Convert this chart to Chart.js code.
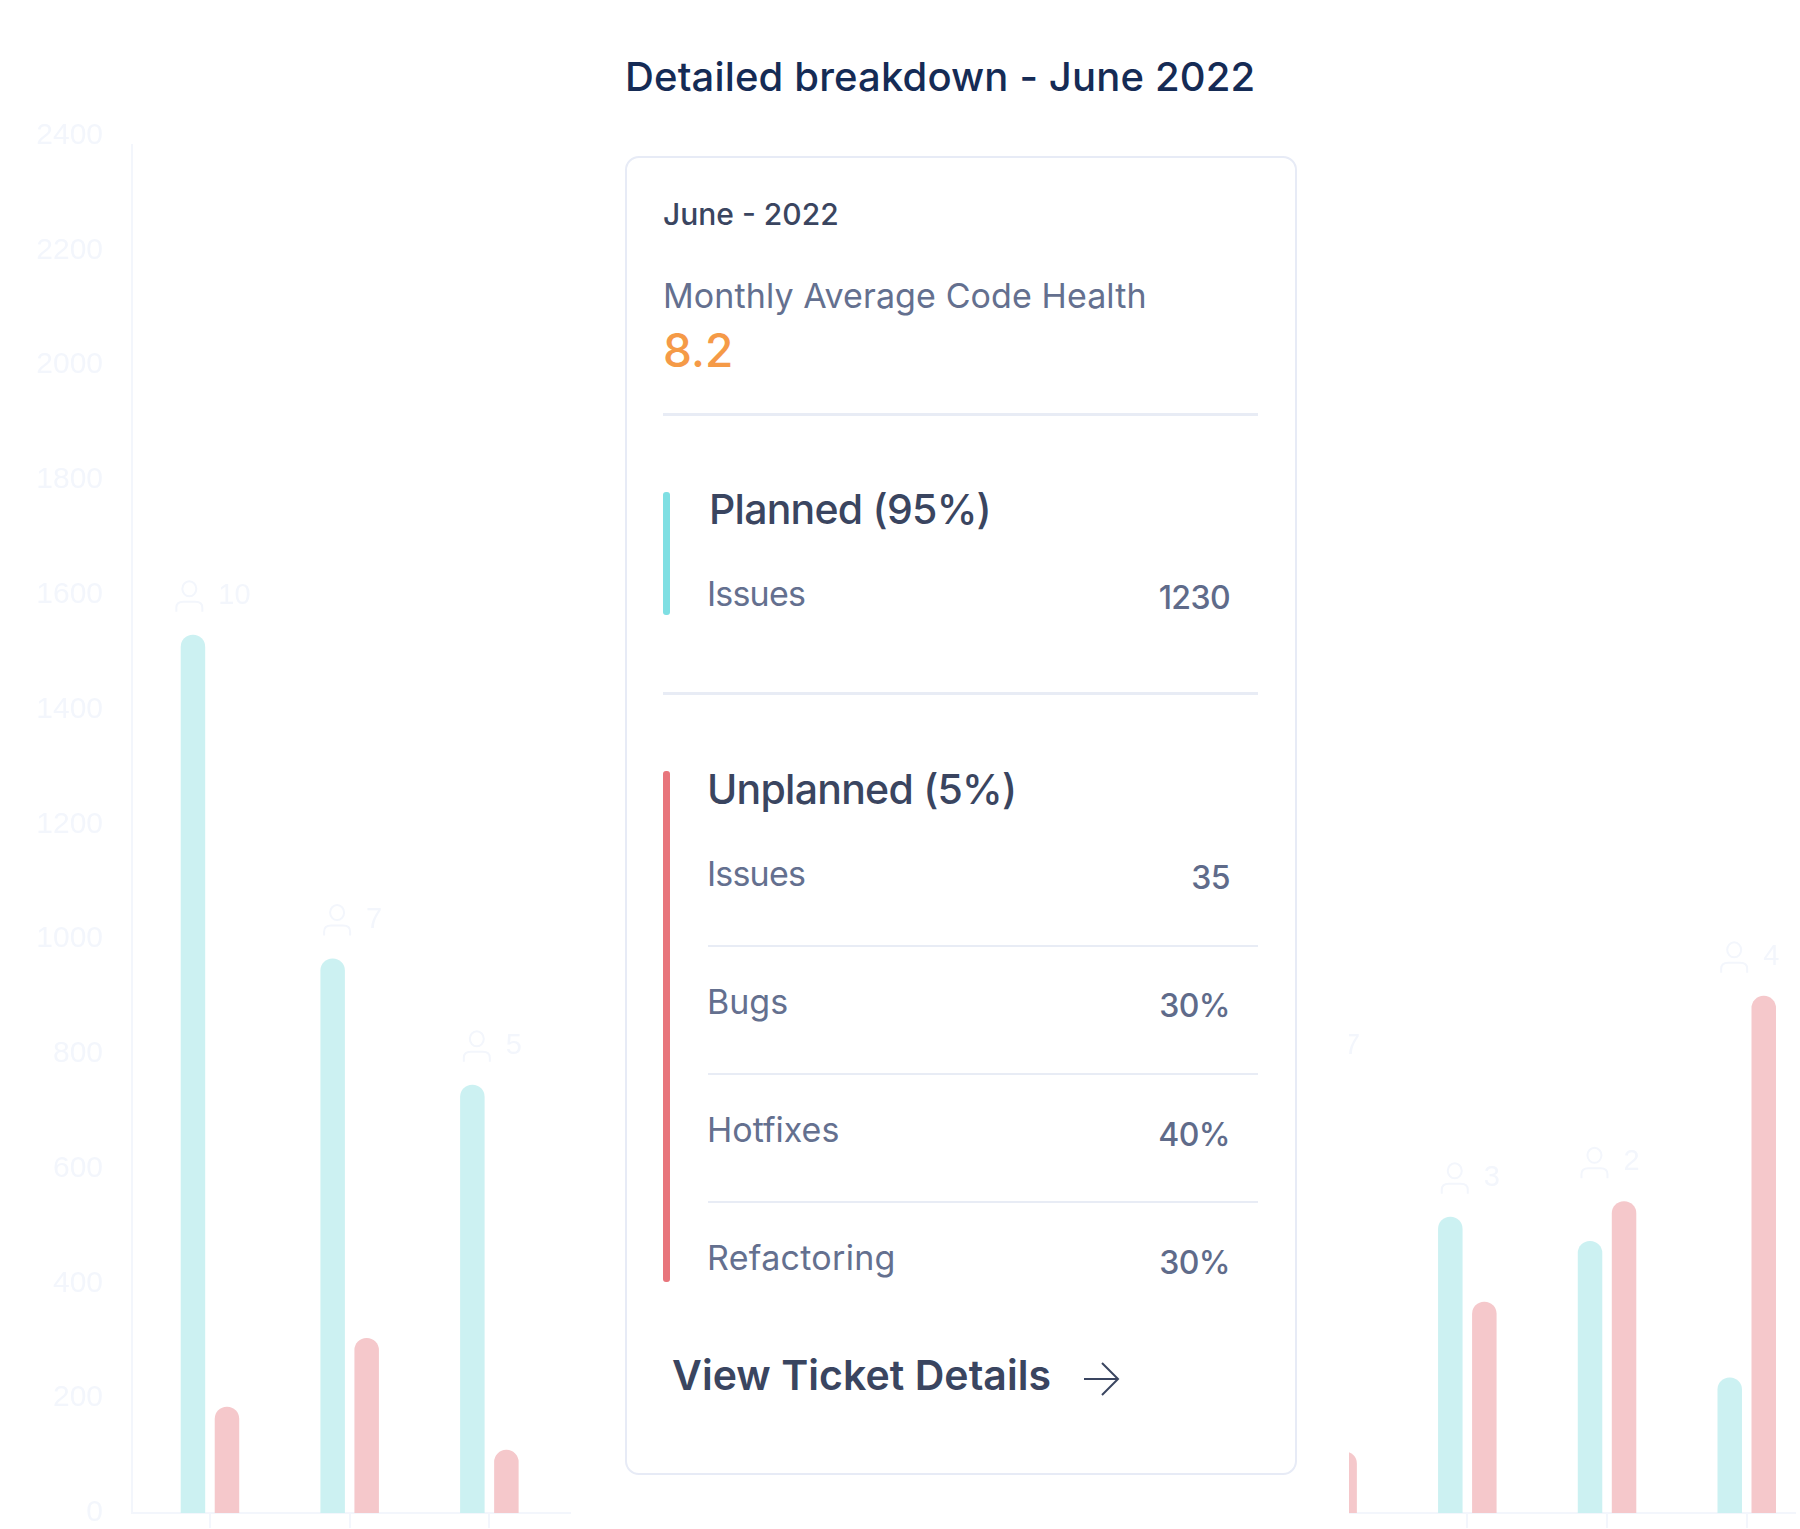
<!DOCTYPE html>
<html>
<head>
<meta charset="utf-8">
<script src="https://cdn.jsdelivr.net/npm/chart.js@4"></script>
<style>
  html, body { margin: 0; padding: 0; background: #fff; width: 1800px; height: 1529px; overflow: hidden; }
  body { position: relative; font-family: Inter, sans-serif; }
  #chartWrap { position: absolute; left: 0; top: 0; width: 1796px; height: 1529px; overflow: hidden; }
  #mask { position: absolute; left: 571px; top: 0; width: 777.5px; height: 1529px; background: #fff; }
  #axisTop { position: absolute; left: 126px; top: 128px; width: 12px; height: 16px; background: #fff; }
  .t { position: absolute; line-height: 0; white-space: nowrap; }
  .title { left: 625px; top: 77px; font-size: 40px; font-weight: 500; letter-spacing: 0.15px; color: #152b55; }
  #card { position: absolute; left: 625px; top: 156px; width: 668px; height: 1315px; border: 2px solid #e7ebf6; border-radius: 14px; }
  .month { left: 663px; top: 214px; font-size: 30px; font-weight: 500; color: #3a4560; }
  .lbl { left: 707px; font-size: 34px; color: #64708f; }
  .val { right: 570px; font-size: 32px; font-weight: 500; letter-spacing: -0.6px; color: #5f6b8a; }
  .head { font-size: 41px; font-weight: 500; letter-spacing: -0.75px; color: #3a4560; }
  .rule { position: absolute; background: #e8ecf5; }
  .stripe { position: absolute; left: 663px; width: 7px; border-radius: 3px; }
</style>
</head>
<body>
<!-- canvas runs past the window on purpose: the months keep going off the picture -->
<div id="chartWrap"><canvas id="myChart" width="1900" height="1552"></canvas></div>
<div id="axisTop"></div>
<div id="mask"></div>
<div class="t title">Detailed breakdown - June 2022</div>
<div id="card"></div>
<div class="t month">June - 2022</div>
<div class="t lbl" style="left:663px;top:296px;letter-spacing:0.1px">Monthly Average Code Health</div>
<div class="t" style="left:663px;top:350px;font-size:46px;font-weight:500;color:#f59a47">8.2</div>
<div class="rule" style="left:663px;top:413px;width:595px;height:3px"></div>

<div class="stripe" style="top:492px;height:123px;background:#7fdfe3"></div>
<div class="t head" style="left:709px;top:509px">Planned (95%)</div>
<div class="t lbl" style="top:594px;letter-spacing:-0.8px">Issues</div>
<div class="t val" style="top:598px">1230</div>
<div class="rule" style="left:663px;top:692px;width:595px;height:3px"></div>

<div class="stripe" style="top:771px;height:511px;background:#e8757c"></div>
<div class="t head" style="left:707px;top:789px">Unplanned (5%)</div>
<div class="t lbl" style="top:874px;letter-spacing:-0.8px">Issues</div>
<div class="t val" style="top:878px">35</div>
<div class="rule" style="left:708px;top:945px;width:550px;height:2px"></div>
<div class="t lbl" style="top:1002px">Bugs</div>
<div class="t val" style="top:1006px">30%</div>
<div class="rule" style="left:708px;top:1073px;width:550px;height:2px"></div>
<div class="t lbl" style="top:1130px">Hotfixes</div>
<div class="t val" style="top:1135px">40%</div>
<div class="rule" style="left:708px;top:1201px;width:550px;height:2px"></div>
<div class="t lbl" style="top:1258px;letter-spacing:0.3px">Refactoring</div>
<div class="t val" style="top:1263px">30%</div>

<div class="t head" style="left:672px;top:1375px;font-weight:600;letter-spacing:0.05px">View Ticket Details</div>
<svg style="position:absolute;left:1082px;top:1360px" width="40" height="38" viewBox="0 0 40 38" fill="none" stroke="#3a4560" stroke-width="2">
  <path d="M2 19H36M20 3L36 19L20 35"/>
</svg>

<script>
// month index on the x axis, 3-7 are hidden behind the card
var months = [0, 1, 2, 3, 4, 5, 6, 7, 8, 9, 10, 11];
var planned = [1530, 966, 746, null, null, null, null, null, 746, 516, 474, 236];
var unplanned = [185, 305, 110, null, null, null, null, null, 107, 368, 543, 901];
var people = [10, 7, 5, null, null, null, null, null, 7, 3, 2, 4];
var yTicks = [0, 200, 400, 600, 800, 1000, 1200, 1400, 1600, 1800, 2000, 2200, 2400];

const faint = '#f3f6fc';

function toPoints(values) {
  return months.map(function(m, i) {
    return { x: m, y: values[i] };
  });
}

// little person icon + head count above each pair of bars
var peopleLabels = {
  id: 'peopleLabels',
  afterDatasetsDraw: function(chart) {
    var ctx = chart.ctx;
    var xs = chart.scales.x;
    var ys = chart.scales.y;
    ctx.save();
    ctx.font = '29px "Liberation Sans"';
    ctx.fillStyle = faint;
    ctx.strokeStyle = faint;
    ctx.lineWidth = 2;
    ctx.textBaseline = 'middle';
    months.forEach(function(m, i) {
      if (people[i] == null) return;
      var text = String(people[i]);
      var top = ys.getPixelForValue(Math.max(planned[i], unplanned[i]));
      var tw = ctx.measureText(text).width;
      var left = xs.getPixelForValue(m) + 3 - (28 + 15 + tw) / 2;
      // head
      ctx.beginPath();
      ctx.ellipse(left + 14, top - 46, 7, 7.5, 0, 0, Math.PI * 2);
      ctx.stroke();
      // shoulders
      ctx.beginPath();
      ctx.moveTo(left + 1, top - 23);
      ctx.lineTo(left + 1, top - 27);
      ctx.quadraticCurveTo(left + 1, top - 33, left + 8, top - 33);
      ctx.lineTo(left + 20, top - 33);
      ctx.quadraticCurveTo(left + 27, top - 33, left + 27, top - 27);
      ctx.lineTo(left + 27, top - 23);
      ctx.stroke();
      ctx.fillText(text, left + 43, top - 39);
    });
    ctx.restore();
  }
};

var ctx = document.getElementById('myChart').getContext('2d');

var chart = new Chart(ctx, {
  type: 'bar',
  plugins: [peopleLabels],
  data: {
    datasets: [{
      label: 'Planned',
      data: toPoints(planned),
      backgroundColor: '#ccf1f2',
      borderRadius: { topLeft: 12, topRight: 12 },
      borderSkipped: 'bottom'
    }, {
      label: 'Unplanned',
      data: toPoints(unplanned),
      backgroundColor: '#f5c8cb',
      borderRadius: { topLeft: 12, topRight: 12 },
      borderSkipped: 'bottom'
    }]
  },
  options: {
    responsive: false,
    animation: false,
    devicePixelRatio: 1,
    categoryPercentage: 0.487,
    barPercentage: 0.72,
    layout: { autoPadding: false, padding: { left: 0, right: 0, top: 135.5, bottom: 0 } },
    plugins: { legend: { display: false }, tooltip: { enabled: false } },
    scales: {
      x: {
        type: 'linear',
        offset: false,
        min: -0.558,
        max: 12.097,
        afterBuildTicks: function(axis) {
          axis.ticks = months.map(function(m) { return { value: m }; });
        },
        afterFit: function(axis) { axis.height = 17; },
        grid: { offset: false, drawOnChartArea: false, color: faint, tickLength: 15, lineWidth: 2 },
        border: { color: faint, width: 2 },
        ticks: { display: false }
      },
      y: {
        min: 0,
        max: 2400,
        afterBuildTicks: function(axis) {
          axis.ticks = yTicks.map(function(v) { return { value: v }; });
        },
        afterFit: function(axis) { axis.width = 132; },
        grid: { display: false },
        border: { color: faint, width: 2 },
        ticks: {
          color: faint,
          font: { family: '"Liberation Sans"', size: 30 },
          padding: 21,
          callback: function(v) { return String(v); }
        }
      }
    }
  }
});
</script>
</body>
</html>
